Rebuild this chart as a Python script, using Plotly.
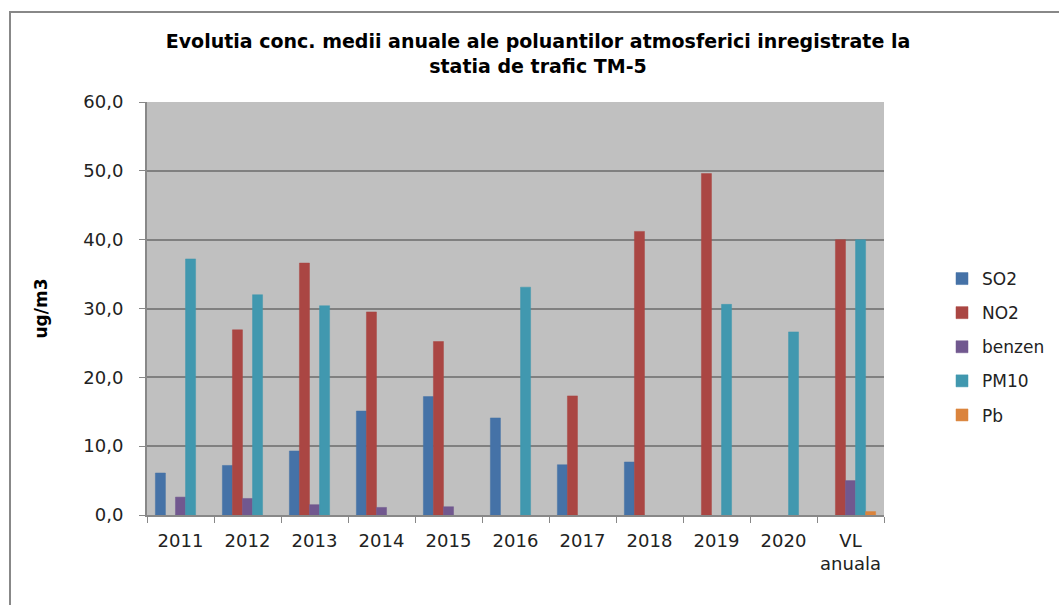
import plotly.graph_objects as go

categories = ["2011", "2012", "2013", "2014", "2015", "2016", "2017", "2018", "2019", "2020", "VL<br>anuala"]
so2 = [6.1, 7.2, 9.3, 15.1, 17.2, 14.1, 7.3, 7.7, None, None, None]
no2 = [None, 26.9, 36.6, 29.5, 25.2, None, 17.3, 41.2, 49.6, None, 40.0]
benzen = [2.6, 2.4, 1.5, 1.1, 1.2, None, None, None, None, None, 5.0]
pm10 = [37.2, 32.0, 30.4, None, None, 33.1, None, None, 30.6, 26.6, 40.0]
pb = [None, None, None, None, None, None, None, None, None, None, 0.5]

series = [
    ("SO2", so2, "#4572A7"),
    ("NO2", no2, "#AA4643"),
    ("benzen", benzen, "#71588F"),
    ("PM10", pm10, "#4198AF"),
    ("Pb", pb, "#DB843D"),
]

fig = go.Figure()
for i, (name, vals, col) in enumerate(series):
    fig.add_trace(go.Bar(
        x=categories, y=vals, name=name, marker_color=col,
        marker_line=dict(color=col, width=0.5),
        legendgroup=f"g{i}",
    ))

L, R, T, B = 147, 884, 102, 515
W, H = 1059, 605
pw, ph = R - L, B - T

fig.update_layout(
    width=W, height=H,
    margin=dict(l=L, r=W - R, t=T, b=H - B, autoexpand=False),
    barmode="group", bargap=0.25, bargroupgap=0,
    plot_bgcolor="#C0C0C0", paper_bgcolor="white",
    separators=",.",
    title=dict(
        text="<b>Evolutia conc. medii anuale ale poluantilor atmosferici inregistrate la<br>statia de trafic TM-5</b>",
        x=538 / W, xanchor="center", xref="container",
        y=1 - 48 / H, yanchor="top", yref="container",
        font=dict(family="DejaVu Sans", size=19, color="black"),
    ),
    legend=dict(
        x=(942 - L) / pw, xanchor="left",
        y=(B - 261) / ph, yanchor="top",
        font=dict(family="DejaVu Sans", size=17, color="#222"),
        tracegroupgap=9, bgcolor="rgba(0,0,0,0)",
    ),
    font=dict(family="DejaVu Sans", size=18, color="#222"),
)

fig.update_xaxes(
    type="category", tickson="boundaries", ticks="outside", ticklen=6,
    tickcolor="#888", showline=True, linecolor="#888", linewidth=2,
    showgrid=False, tickfont=dict(family="DejaVu Sans", size=18, color="#222"),
    ticklabelstandoff=8, tickangle=0,
)
fig.update_yaxes(
    range=[0, 60], dtick=10, tickformat=".1f", ticks="outside", ticklen=6,
    tickcolor="#888", showline=True, linecolor="#888", linewidth=2,
    showgrid=True, gridcolor="#808080", gridwidth=1.5,
    tickfont=dict(family="DejaVu Sans", size=18, color="#222"),
    ticklabelstandoff=12,
    title=dict(text="<b>ug/m3</b>", font=dict(family="DejaVu Sans", size=17, color="black"), standoff=31),
    zeroline=False,
)

# outer chart frame
fig.add_shape(
    type="rect", xref="paper", yref="paper",
    x0=(10 - L) / pw, x1=(1075 - L) / pw,
    y0=(B - 620) / ph, y1=(B - 12) / ph,
    line=dict(color="#888", width=2), fillcolor="rgba(0,0,0,0)", layer="below",
)

fig.write_html("out.html", config={"displayModeBar": False},
               post_script="document.body.style.margin='0';")
